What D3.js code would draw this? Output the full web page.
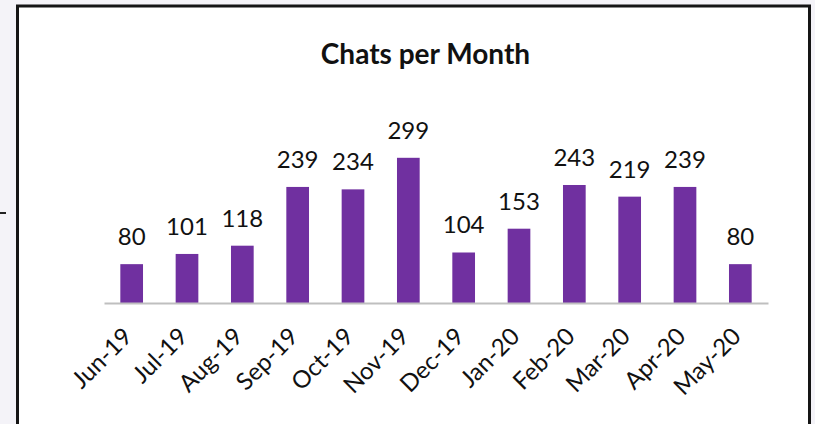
<!DOCTYPE html>
<html>
<head>
<meta charset="utf-8">
<script src="https://cdn.jsdelivr.net/npm/d3@7"></script>
<style>
  html, body { margin: 0; padding: 0; background: #f4f3f8; }
  svg { display: block; }
</style>
</head>
<body>
<div id="chart"></div>
<script>
// Chart data
const months = ["Jun-19", "Jul-19", "Aug-19", "Sep-19", "Oct-19", "Nov-19",
                "Dec-19", "Jan-20", "Feb-20", "Mar-20", "Apr-20", "May-20"];
const chats = [80, 101, 118, 239, 234, 299, 104, 153, 243, 219, 239, 80];
const chartTitle = "Chats per Month";

// Dimensions
const width = 815;
const height = 424;
const plot = {left: 104, right: 768, baseline: 303, top: 157.8};

const svg = d3.select("#chart")
  .append("svg")
  .attr("width", width)
  .attr("height", height);

// background and frame
svg.append("rect")
  .attr("x", 0).attr("y", 0)
  .attr("width", width).attr("height", height)
  .attr("fill", "#f4f3f8");

svg.append("line")
  .attr("x1", 0).attr("x2", 6)
  .attr("y1", 213).attr("y2", 213)
  .attr("stroke", "#222").attr("stroke-width", 2);

svg.append("rect")
  .attr("x", 17.5).attr("y", 6)
  .attr("width", 792).attr("height", 440)
  .attr("fill", "#fff")
  .attr("stroke", "#151515")
  .attr("stroke-width", 3);

// Scales
const xScale = d3.scaleBand()
  .domain(months)
  .range([plot.left, plot.right])
  .paddingInner(0.59)
  .paddingOuter(0.295);

const yScale = d3.scaleLinear()
  .domain([0, 299])
  .range([plot.baseline, plot.top]);

// Title
svg.append("text")
  .attr("x", 425.5)
  .attr("y", 64)
  .attr("text-anchor", "middle")
  .attr("font-family", "Lato, 'Open Sans', sans-serif")
  .attr("font-weight", "bold")
  .attr("font-size", "28px")
  .attr("fill", "#111")
  .text(chartTitle);

// Bars
svg.selectAll(".bar")
  .data(chats)
  .enter()
  .append("rect")
    .attr("class", "bar")
    .attr("x", (d, i) => xScale(months[i]))
    .attr("y", d => yScale(d))
    .attr("width", xScale.bandwidth())
    .attr("height", d => plot.baseline - yScale(d))
    .attr("fill", "#7030a0");

// Value labels
svg.selectAll(".val")
  .data(chats)
  .enter()
  .append("text")
    .attr("class", "val")
    .attr("x", (d, i) => xScale(months[i]) + xScale.bandwidth() / 2)
    .attr("y", d => yScale(d) - 19)
    .attr("text-anchor", "middle")
    .attr("font-family", "Lato, 'Open Sans', sans-serif")
    .attr("font-size", "24px")
    .attr("fill", "#111")
    .text(d => d);

// X axis
const xAxis = svg.append("g")
  .attr("transform", `translate(0,${plot.baseline})`)
  .call(d3.axisBottom(xScale).tickSize(0).tickSizeOuter(0));

xAxis.select(".domain")
  .attr("stroke", "#bfbfbf")
  .attr("stroke-width", 2);

xAxis.selectAll(".tick text")
  .attr("font-family", "Lato, 'Open Sans', sans-serif")
  .attr("font-size", "24px")
  .attr("fill", "#111")
  .attr("text-anchor", "end")
  .attr("dy", null)
  .attr("y", 0)
  .attr("transform", "translate(2,35) rotate(-45)");
</script>
</body>
</html>
